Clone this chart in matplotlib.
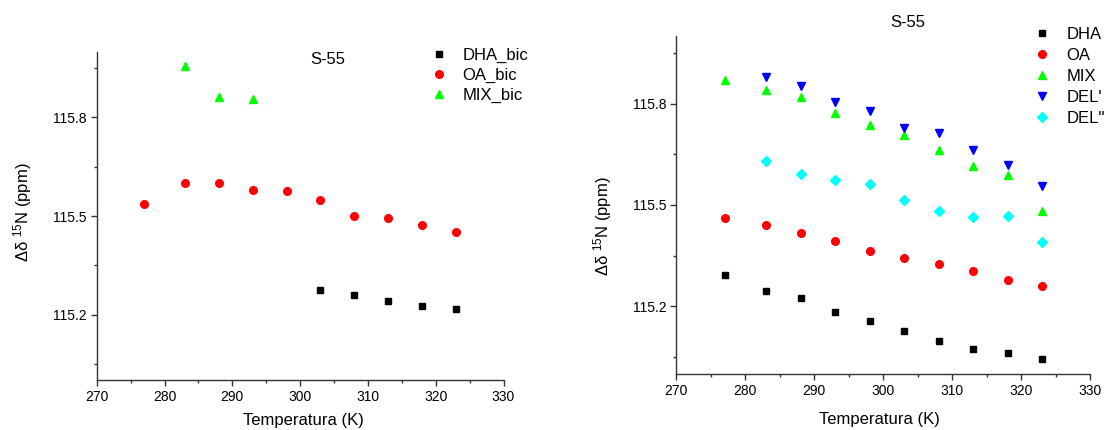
import matplotlib
matplotlib.use("Agg")
import matplotlib.pyplot as plt

plt.rcParams['font.family'] = ['Liberation Sans', 'DejaVu Sans']
plt.rcParams['mathtext.fontset'] = 'custom'
plt.rcParams['mathtext.rm'] = 'Liberation Sans'
plt.rcParams['mathtext.it'] = 'Liberation Sans:italic'

# ---- Left panel data (bic) ----
left_dha_T = [303, 308, 313, 318, 323]
left_dha = [115.276, 115.260, 115.241, 115.226, 115.217]
left_oa_T = [277, 283, 288, 293, 298, 303, 308, 313, 318, 323]
left_oa = [115.535, 115.601, 115.600, 115.578, 115.577, 115.550, 115.501, 115.494, 115.472, 115.451]
left_mix_T = [283, 288, 293]
left_mix = [115.956, 115.863, 115.857]

# ---- Right panel data ----
right_T = [277, 283, 288, 293, 298, 303, 308, 313, 318, 323]
right_dha = [115.293, 115.246, 115.224, 115.184, 115.156, 115.126, 115.099, 115.073, 115.063, 115.045]
right_oa = [115.461, 115.440, 115.417, 115.394, 115.364, 115.343, 115.325, 115.306, 115.278, 115.261]
right_mix = [115.870, 115.841, 115.819, 115.773, 115.737, 115.708, 115.664, 115.615, 115.588, 115.482]
right_del1_T = [283, 288, 293, 298, 303, 308, 313, 318, 323]
right_del1 = [115.879, 115.853, 115.804, 115.777, 115.729, 115.714, 115.662, 115.617, 115.557]
right_del2_T = [283, 288, 293, 298, 303, 308, 313, 318, 323]
right_del2 = [115.631, 115.591, 115.573, 115.562, 115.515, 115.481, 115.464, 115.468, 115.390]

left_labels = ['DHA_bic', 'OA_bic', 'MIX_bic']
right_labels = ['DHA', 'OA', 'MIX', "DEL'", "DEL''"]
x_ticks = [270, 280, 290, 300, 310, 320, 330]
x_minor = [275, 285, 295, 305, 315, 325]
y_ticks = [115.2, 115.5, 115.8]
y_minor = [115.05, 115.35, 115.65, 115.95]
title = 'S-55'
xlabel = 'Temperatura (K)'
ylabel = r'$\mathrm{\Delta\delta}$ $^{15}$N (ppm)'

W, H = 1105, 430
fig = plt.figure(figsize=(W / 100, H / 100), dpi=100)

ax1 = fig.add_axes([96.7 / W, (H - 380.3) / H, 406.8 / W, 328.6 / H])
ax2 = fig.add_axes([676.4 / W, (H - 374) / H, 413.9 / W, 338 / H])

c_green = '#00ff00'
ax1.plot(left_dha_T, left_dha, 's', color='black', ms=4.8, label=left_labels[0])
ax1.plot(left_oa_T, left_oa, 'o', color='red', ms=5.5, label=left_labels[1])
ax1.plot(left_mix_T, left_mix, '^', color=c_green, ms=6, label=left_labels[2])

ax2.plot(right_T, right_dha, 's', color='black', ms=4.8, label=right_labels[0])
ax2.plot(right_T, right_oa, 'o', color='red', ms=5.5, label=right_labels[1])
ax2.plot(right_T, right_mix, '^', color=c_green, ms=6, label=right_labels[2])
ax2.plot(right_del1_T, right_del1, 'v', color='#0000ff', ms=6, label=right_labels[3])
ax2.plot(right_del2_T, right_del2, 'D', color='#00ffff', ms=4.6, label=right_labels[4])

spine_c = '#333333'
for ax in (ax1, ax2):
    ax.set_xlim(270, 330)
    ax.set_ylim(115.0, 116.0)
    ax.set_xticks(x_ticks)
    ax.set_xticks(x_minor, minor=True)
    ax.set_yticks(y_ticks)
    ax.set_yticks(y_minor, minor=True)
    ax.set_yticklabels([f'{v:.1f}' for v in y_ticks])
    for s in ('top', 'right'):
        ax.spines[s].set_visible(False)
    for s in ('left', 'bottom'):
        ax.spines[s].set_color(spine_c)
        ax.spines[s].set_linewidth(1.0)
    ax.tick_params(which='major', direction='out', length=4, width=1, color=spine_c,
                   labelsize=10, pad=3)
    ax.tick_params(which='minor', direction='out', length=2.5, width=1, color=spine_c)
    ax.set_xlabel(xlabel, fontsize=12)
    ax.set_ylabel(ylabel, fontsize=12)

ax1.xaxis.set_label_coords(0.508, -0.0995)
ax2.xaxis.set_label_coords(0.49, -0.112)
ax1.yaxis.set_label_coords(-0.155, 0.511)
ax2.yaxis.set_label_coords(-0.151, 0.436)

ax1.text((327.5 - 96.7) / 406.8, (380.3 - 59.3) / 328.6, title, transform=ax1.transAxes,
         ha='center', va='center', fontsize=12)
ax2.text((908 - 676.4) / 413.9, (374 - 22.3) / 338, title, transform=ax2.transAxes,
         ha='center', va='center', fontsize=12)

fs = 12
fs_px = fs * 100 / 72.0
hl = 1.0


def place_legend(ax, marker_x, first_y, lab_sp, text_x):
    hpad = (text_x - marker_x - hl * fs_px / 2) / fs_px
    left = marker_x - hl * fs_px / 2
    top = first_y - fs_px * 0.45
    leg = ax.legend(loc='upper left', bbox_to_anchor=(left / W, 1 - top / H),
                    bbox_transform=fig.transFigure, frameon=False, fontsize=fs,
                    handlelength=hl, handletextpad=hpad, labelspacing=lab_sp,
                    borderpad=0, borderaxespad=0, numpoints=1)
    return leg

place_legend(ax1, 439, 55.7, 0.29, 462.3)
place_legend(ax2, 1042.3, 34.7, 0.35, 1066.7)

fig.savefig('out.png', dpi=100)
